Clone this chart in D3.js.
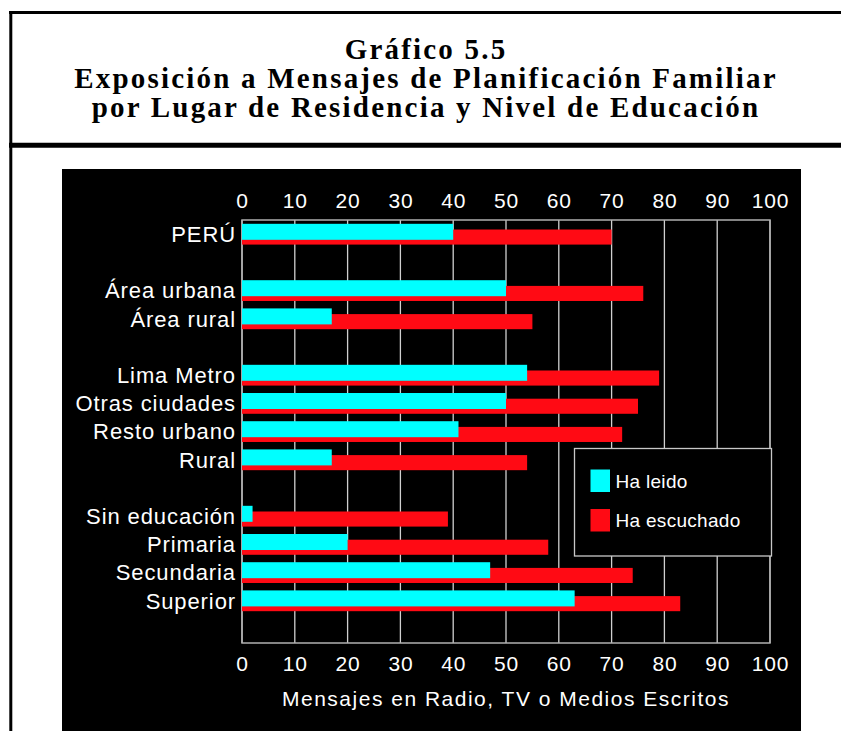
<!DOCTYPE html>
<html>
<head>
<meta charset="utf-8">
<script src="https://cdn.jsdelivr.net/npm/d3@7"></script>
<style>
  body { margin: 0; background: #fff; }
  svg { display: block; }
  .cat, .tick text, .axisTitle, .legendText {
    font-family: "Liberation Sans", Arial, Helvetica, sans-serif;
    fill: #fff;
  }
  .title { font-family: "Liberation Serif", "Times New Roman", serif; font-weight: bold; fill: #000; }
</style>
</head>
<body>
<div id="chart"></div>
<script>
// categories top to bottom, "" marks an empty row between groups
const slots = ["PERÚ", "", "Área urbana", "Área rural", "", "Lima Metro", "Otras ciudades",
  "Resto urbano", "Rural", "", "Sin educación", "Primaria", "Secundaria", "Superior", ""];
const categories = ["PERÚ", "Área urbana", "Área rural", "Lima Metro", "Otras ciudades",
  "Resto urbano", "Rural", "Sin educación", "Primaria", "Secundaria", "Superior"];
const haLeido = [40, 50, 17, 54, 50, 41, 17, 2, 20, 47, 63];
const haEscuchado = [70, 76, 55, 79, 75, 72, 54, 39, 58, 74, 83];
const ticks = [0, 10, 20, 30, 40, 50, 60, 70, 80, 90, 100];
const titleLines = ["Gráfico 5.5", "Exposición a Mensajes de Planificación Familiar",
  "por Lugar de Residencia y Nivel de Educación"];
const xTitle = "Mensajes en Radio, TV o Medios Escritos";
const seriesNames = ["Ha leido", "Ha escuchado"];

const W = 841, H = 731;
const CYAN = "#00ffff", RED = "#ff0a14";

const svg = d3.select("#chart").append("svg")
  .attr("width", W)
  .attr("height", H);

// page frame
svg.append("line").attr("x1", 9).attr("x2", W).attr("y1", 12.5).attr("y2", 12.5)
  .attr("stroke", "#000").attr("stroke-width", 3);
svg.append("line").attr("x1", 10.8).attr("x2", 10.8).attr("y1", 11).attr("y2", H)
  .attr("stroke", "#000").attr("stroke-width", 3);
svg.append("line").attr("x1", 9).attr("x2", W).attr("y1", 145.3).attr("y2", 145.3)
  .attr("stroke", "#000").attr("stroke-width", 5);

// title
svg.selectAll(".title")
  .data(titleLines)
.enter().append("text")
  .attr("class", "title")
  .attr("x", 426)
  .attr("y", (d, i) => 59 + i * 29)
  .attr("text-anchor", "middle")
  .style("font-size", "29px")
  .style("letter-spacing", "2.2px")
  .text(d => d);

// black panel
svg.append("rect")
  .attr("x", 62).attr("y", 169)
  .attr("width", 739).attr("height", H - 169)
  .attr("fill", "#000");

let margin = { left: 242, right: 770, top: 220, bottom: 643 };

let x = d3.scaleLinear()
  .domain([0, 100])
  .range([margin.left, margin.right]);

let y = d3.scaleBand()
  .domain(d3.range(slots.length))
  .range([margin.top, margin.bottom]);

let rowOf = c => slots.indexOf(c);
let bw = y.bandwidth();

// gridlines
svg.append("g").selectAll("line")
  .data(ticks)
.enter().append("line")
  .attr("x1", d => x(d)).attr("x2", d => x(d))
  .attr("y1", margin.top).attr("y2", margin.bottom)
  .attr("stroke", "#d0d0d0")
  .attr("stroke-width", 1.3);

svg.append("rect")
  .attr("x", margin.left).attr("y", margin.top)
  .attr("width", margin.right - margin.left)
  .attr("height", margin.bottom - margin.top)
  .attr("fill", "none")
  .attr("stroke", "#b0b0b0")
  .attr("stroke-width", 1.5);

// bars: red drawn first, cyan overlaps on top
svg.append("g").selectAll("rect")
  .data(categories)
.enter().append("rect")
  .attr("x", x(0))
  .attr("y", c => y(rowOf(c)) + bw * 0.337)
  .attr("width", (c, i) => x(haEscuchado[i]) - x(0))
  .attr("height", bw * 0.535)
  .attr("fill", RED);

svg.append("g").selectAll("rect")
  .data(categories)
.enter().append("rect")
  .attr("x", x(0))
  .attr("y", c => y(rowOf(c)) + bw * 0.135)
  .attr("width", (c, i) => x(haLeido[i]) - x(0))
  .attr("height", bw * 0.567)
  .attr("fill", CYAN);

// category labels
svg.append("g").selectAll("text")
  .data(categories)
.enter().append("text")
  .attr("class", "cat")
  .attr("x", 236)
  .attr("y", c => y(rowOf(c)) + bw / 2)
  .attr("dy", "0.36em")
  .attr("text-anchor", "end")
  .style("font-size", "22px")
  .style("letter-spacing", "0.9px")
  .text(c => c);

// axes
let axTop = svg.append("g")
  .attr("transform", "translate(0," + margin.top + ")")
  .call(d3.axisTop(x).tickValues(ticks).tickSize(0).tickPadding(12));
let axBottom = svg.append("g")
  .attr("transform", "translate(0," + margin.bottom + ")")
  .call(d3.axisBottom(x).tickValues(ticks).tickSize(0).tickPadding(13));

[axTop, axBottom].forEach(function(ax) {
  ax.select(".domain").remove();
  ax.selectAll("text")
    .attr("fill", "#fff")
    .style("font-size", "21px")
    .style("letter-spacing", "0.8px");
});

svg.append("text")
  .attr("class", "axisTitle")
  .attr("x", (margin.left + margin.right) / 2)
  .attr("y", 706)
  .attr("text-anchor", "middle")
  .style("font-size", "21px")
  .style("letter-spacing", "1.5px")
  .text(xTitle);

// legend
let legend = svg.append("g").attr("transform", "translate(574.5,448.5)");
legend.append("rect")
  .attr("width", 197).attr("height", 107.5)
  .attr("fill", "#000")
  .attr("stroke", "#c8c8c8")
  .attr("stroke-width", 1.3);

let legendItem = legend.selectAll(".legendItem")
  .data(seriesNames)
.enter().append("g")
  .attr("class", "legendItem")
  .attr("transform", (d, i) => "translate(16," + (21 + i * 39.5) + ")");

legendItem.append("rect")
  .attr("width", 19.5).attr("height", 22.5)
  .attr("fill", (d, i) => i === 0 ? CYAN : RED);

legendItem.append("text")
  .attr("class", "legendText")
  .attr("x", 25)
  .attr("y", 11.5)
  .attr("dy", "0.35em")
  .style("font-size", "19px")
  .style("letter-spacing", "0.3px")
  .text(d => d);
</script>
</body>
</html>
